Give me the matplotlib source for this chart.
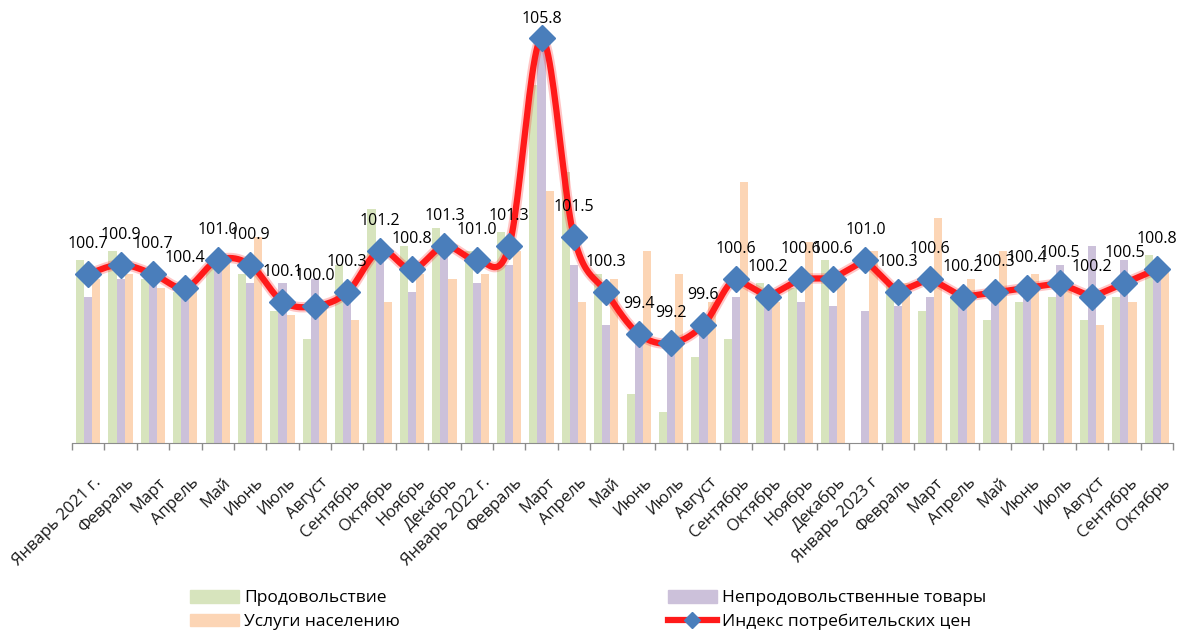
import matplotlib
matplotlib.use('Agg')
import matplotlib.pyplot as plt
import matplotlib.transforms as mtransforms
from matplotlib.lines import Line2D
from matplotlib.patches import Patch
import numpy as np

plt.rcParams['font.family'] = ['Open Sans', 'DejaVu Sans']

months = ['Январь 2021 г.', 'Февраль', 'Март', 'Апрель', 'Май', 'Июнь', 'Июль',
          'Август', 'Сентябрь', 'Октябрь', 'Ноябрь', 'Декабрь',
          'Январь 2022 г.', 'Февраль', 'Март', 'Апрель', 'Май', 'Июнь', 'Июль',
          'Август', 'Сентябрь', 'Октябрь', 'Ноябрь', 'Декабрь',
          'Январь 2023 г', 'Февраль', 'Март', 'Апрель', 'Май', 'Июнь', 'Июль',
          'Август', 'Сентябрь', 'Октябрь']

cpi = [100.7, 100.9, 100.7, 100.4, 101.0, 100.9, 100.1, 100.0, 100.3, 101.2, 100.8, 101.3,
       101.0, 101.3, 105.8, 101.5, 100.3, 99.4, 99.2, 99.6, 100.6, 100.2, 100.6, 100.6,
       101.0, 100.3, 100.6, 100.2, 100.3, 100.4, 100.5, 100.2, 100.5, 100.8]

food = [101.0, 101.2, 100.6, 100.3, 100.9, 100.7, 99.9, 99.3, 100.9, 102.1, 101.3, 101.7,
        101.2, 101.6, 104.8, 102.9, 100.7, 98.1, 97.7, 98.9, 99.3, 100.5, 100.4, 101.0,
        97.0, 100.5, 99.9, 100.2, 99.7, 100.1, 100.2, 99.7, 100.2, 101.1]

nonfood = [100.2, 100.6, 100.5, 100.4, 100.8, 100.5, 100.5, 100.6, 100.2, 101.1, 100.3, 101.4,
           100.5, 100.9, 105.7, 100.9, 99.6, 99.5, 99.2, 99.6, 100.2, 100.0, 100.1, 100.0,
           99.9, 100.0, 100.2, 100.0, 100.1, 100.4, 100.9, 101.3, 101.0, 100.6]

services = [100.6, 100.7, 100.4, 100.4, 101.0, 101.5, 99.8, 100.0, 99.7, 100.1, 100.7, 100.6,
            100.7, 101.2, 102.5, 100.1, 100.6, 101.2, 100.7, 100.1, 102.7, 100.1, 101.4, 100.6,
            101.2, 100.5, 101.9, 100.6, 101.2, 100.7, 100.5, 99.6, 100.1, 100.8]

c_food = '#d7e4bd'
c_nonfood = '#ccc1da'
c_serv = '#fcd5b5'
c_line = '#ff1a1a'
c_mark = '#4a7ebb'

fig = plt.figure(figsize=(11.8, 6.3), dpi=100)
ax = fig.add_axes([72 / 1180, 186.7 / 630, 1101 / 1180, 423.3 / 630])

x = np.arange(len(months))
w = 0.25
ax.bar(x - w, food, w, color=c_food, zorder=1)
ax.bar(x, nonfood, w, color=c_nonfood, zorder=1)
ax.bar(x + w, services, w, color=c_serv, zorder=1)

# smoothed line (Excel-like), straight after Sep 2022
y = np.array(cpi)
n_smooth = 20
px, py = [], []
for i in range(len(x) - 1):
    p0 = np.array([x[max(i - 1, 0)], y[max(i - 1, 0)]])
    p1 = np.array([x[i], y[i]])
    p2 = np.array([x[i + 1], y[i + 1]])
    p3 = np.array([x[min(i + 2, len(x) - 1)], y[min(i + 2, len(x) - 1)]])
    if i < n_smooth:
        c1 = p1 + (p2 - p0) / 6
        c2 = p2 - (p3 - p1) / 6
    else:
        c1, c2 = p1, p2
    t = np.linspace(0, 1, 25)[:, None]
    seg = (1 - t) ** 3 * p1 + 3 * (1 - t) ** 2 * t * c1 + 3 * (1 - t) * t ** 2 * c2 + t ** 3 * p2
    px.extend(seg[:, 0])
    py.extend(seg[:, 1])

ax.plot(px, py, color=c_line, lw=7.5, alpha=0.25, zorder=3, solid_capstyle='round')
ax.plot(px, py, color=c_line, lw=4.5, zorder=4, solid_capstyle='round')
ax.plot(x, y, linestyle='none', marker='D', ms=13, color=c_mark, zorder=5)

for xi, yi in zip(x, cpi):
    off = 14 if yi == max(cpi) else 21.6
    ax.annotate('{:.1f}'.format(yi), (xi, yi), xytext=(0, off), textcoords='offset points',
                ha='center', va='center', fontsize=11.5, color='black', zorder=6,
                annotation_clip=False)

ax.set_xlim(-0.5, len(months) - 0.5)
ax.set_ylim(97.03, 106.2)
for s in ['top', 'right', 'left']:
    ax.spines[s].set_visible(False)
ax.spines['bottom'].set_color('#8c8c8c')
ax.set_yticks([])

ax.set_xticks(x)
ax.set_xticklabels(months, rotation=45, ha='right', va='top', rotation_mode='anchor',
                   fontsize=12, color='#1a1a1a')
ax.tick_params(axis='x', which='major', length=0, pad=16)
ax.set_xticks(np.arange(-0.5, len(months), 1), minor=True)
ax.tick_params(axis='x', which='minor', length=5, color='#8c8c8c', width=1)
offset = mtransforms.ScaledTranslation(5 / 100, -9 / 100, fig.dpi_scale_trans)
for lbl in ax.get_xticklabels():
    lbl.set_transform(lbl.get_transform() + offset)

h_food = Patch(color=c_food, label='Продовольствие')
h_serv = Patch(color=c_serv, label='Услуги населению')
h_nonfood = Patch(color=c_nonfood, label='Непродовольственные товары')
h_cpi = Line2D([], [], color=c_line, lw=4.5, marker='D', ms=8, mfc=c_mark, mec=c_mark,
               label='Индекс потребительских цен')

leg_kw = dict(frameon=False, loc='upper left', fontsize=12.5, handlelength=2.8,
              handleheight=0.75, handletextpad=0.3, labelspacing=0.42,
              borderpad=0, borderaxespad=0)
leg1 = fig.legend(handles=[h_food, h_serv], bbox_to_anchor=(190 / 1180, 40 / 630), **leg_kw)
leg2 = fig.legend(handles=[h_nonfood, h_cpi], bbox_to_anchor=(668 / 1180, 40 / 630), **leg_kw)

fig.savefig('out.png', dpi=100)
